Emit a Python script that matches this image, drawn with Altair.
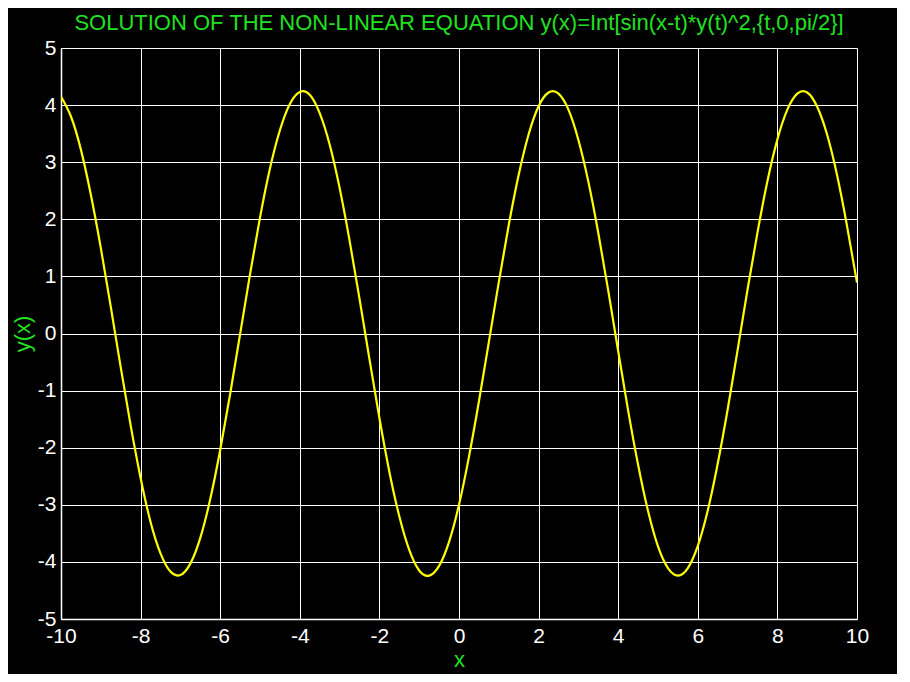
import altair as alt
import pandas as pd

x_vals = [-10.0, -9.75, -9.5, -9.25, -9.0, -8.75, -8.5, -8.25, -8.0, -7.75,
          -7.5, -7.25, -7.0, -6.75, -6.5, -6.25, -6.0, -5.75, -5.5, -5.25,
          -5.0, -4.75, -4.5, -4.25, -4.0, -3.75, -3.5, -3.25, -3.0, -2.75,
          -2.5, -2.25, -2.0, -1.75, -1.5, -1.25, -1.0, -0.75, -0.5, -0.25,
          0.0, 0.25, 0.5, 0.75, 1.0, 1.25, 1.5, 1.75, 2.0, 2.25,
          2.5, 2.75, 3.0, 3.25, 3.5, 3.75, 4.0, 4.25, 4.5, 4.75,
          5.0, 5.25, 5.5, 5.75, 6.0, 6.25, 6.5, 6.75, 7.0, 7.25,
          7.5, 7.75, 8.0, 8.25, 8.5, 8.75, 9.0, 9.25, 9.5, 9.75, 10.0]
y_vals = [4.15, 3.80, 3.22, 2.43, 1.50, 0.47, -0.59, -1.61, -2.53, -3.30,
          -3.85, -4.17, -4.23, -4.03, -3.58, -2.90, -2.04, -1.06, -0.01, 1.04,
          2.03, 2.89, 3.56, 4.02, 4.23, 4.18, 3.86, 3.31, 2.55, 1.63,
          0.61, -0.45, -1.48, -2.42, -3.20, -3.79, -4.15, -4.24, -4.07, -3.65,
          -3.00, -2.16, -1.19, -0.15, 0.90, 1.90, 2.78, 3.49, 3.98, 4.22,
          4.20, 3.92, 3.39, 2.66, 1.76, 0.75, -0.31, -1.35, -2.30, -3.11,
          -3.73, -4.11, -4.24, -4.11, -3.72, -3.10, -2.28, -1.33, -0.29, 0.77,
          1.77, 2.67, 3.40, 3.92, 4.20, 4.22, 3.97, 3.48, 2.77, 1.88, 0.89]
x_ticks = [-10, -8, -6, -4, -2, 0, 2, 4, 6, 8, 10]
y_ticks = [-5, -4, -3, -2, -1, 0, 1, 2, 3, 4, 5]

title_text = "SOLUTION OF THE NON-LINEAR EQUATION y(x)=Int[sin(x-t)*y(t)^2,{t,0,pi/2}]"
GREEN = "#22e022"
FONT = "Liberation Sans"

df = pd.DataFrame({"x": x_vals, "y": y_vals})

axis_common = dict(
    grid=True, gridColor="white", gridWidth=1, gridOpacity=1,
    domainColor="white", domainWidth=1.5, ticks=False,
    labelColor="white", labelFont=FONT, labelFontSize=21, labelFlush=False,
    labelExpr="toString(datum.value)",
    titleColor=GREEN, titleFont=FONT, titleFontSize=22, titleFontWeight="normal",
)

chart = alt.Chart(df).mark_line(color="#ffff00", strokeWidth=2.2, interpolate="natural", clip=True).encode(
    x=alt.X("x:Q", scale=alt.Scale(domain=[-10, 10], nice=False),
            axis=alt.Axis(values=x_ticks, title="x", labelPadding=6, titlePadding=3, **axis_common)),
    y=alt.Y("y:Q", scale=alt.Scale(domain=[-5, 5], nice=False),
            axis=alt.Axis(values=y_ticks, title="y(x)", labelPadding=5, titlePadding=3, **axis_common)),
).properties(
    width=796, height=571,
    title=alt.TitleParams(title_text, color=GREEN, font=FONT, fontSize=22,
                          fontWeight="normal", anchor="middle", offset=2),
    background="black",
    autosize=alt.AutoSizeParams(type="none"),
    padding={"left": 53, "top": 40, "right": 40, "bottom": 55},
).configure_view(stroke=None)

chart.save("out.html", embed_options={"renderer": "svg", "actions": False})
